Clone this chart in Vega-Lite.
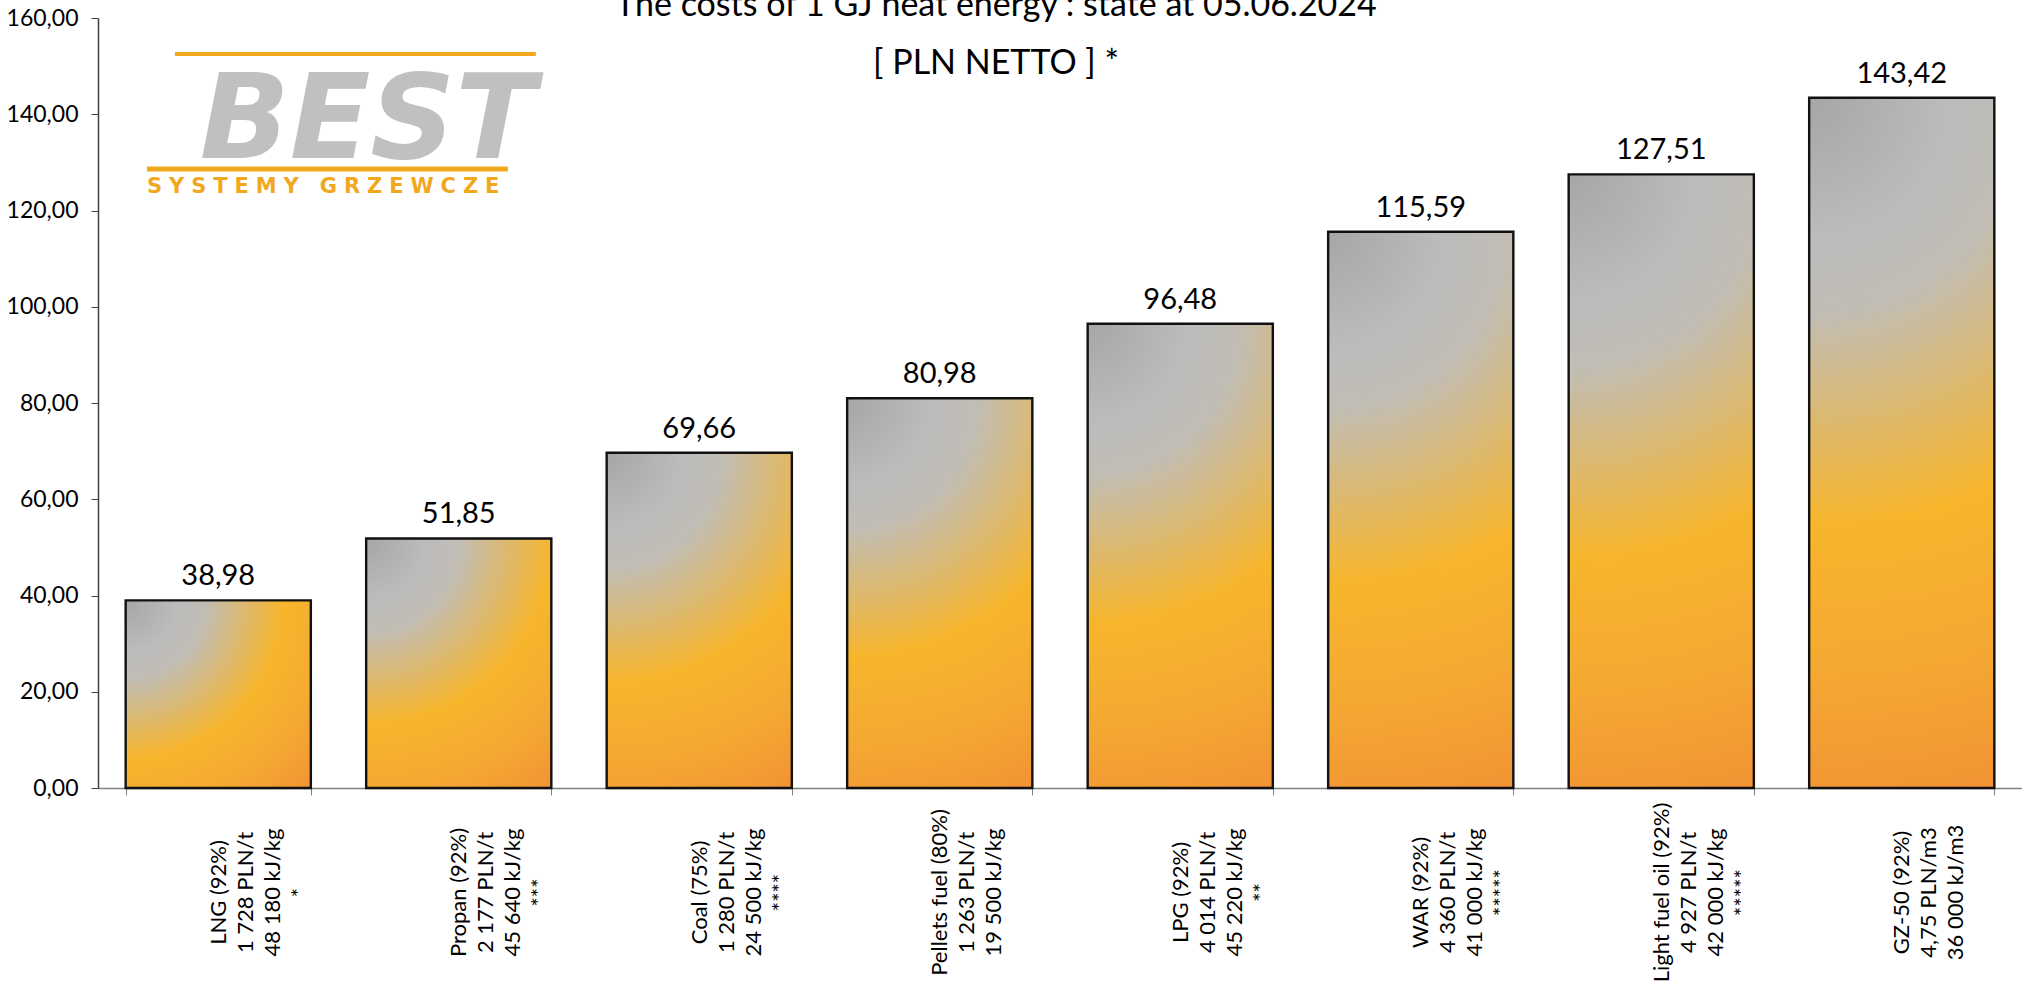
{
  "$schema": "https://vega.github.io/schema/vega-lite/v6.json",
  "width": 1924,
  "height": 770,
  "autosize": "none",
  "padding": {"left": 98, "top": 18, "right": 0, "bottom": 196},
  "background": "#ffffff",
  "config": {
    "view": {"stroke": null},
    "locale": {"number": {"decimal": ",", "thousands": " ", "grouping": [3], "currency": ["", ""]}}
  },
  "title": {
    "text": ["The costs of 1 GJ heat energy : state at 05.06.2024", "[ PLN NETTO ] *"],
    "font": "Lato",
    "fontSize": 34,
    "fontWeight": "normal",
    "color": "#000000",
    "anchor": "middle",
    "frame": "group",
    "baseline": "top",
    "lineHeight": 58,
    "offset": -74,
    "dx": -64
  },
  "data": {
    "values": [
      {"cat": "LNG (92%)|1 728 PLN/t|48 180 kJ/kg|*", "value": 38.98},
      {"cat": "Propan (92%)|2 177 PLN/t|45 640 kJ/kg|***", "value": 51.85},
      {"cat": "Coal (75%)|1 280 PLN/t|24 500 kJ/kg|****", "value": 69.66},
      {"cat": "Pellets fuel (80%)|1 263 PLN/t|19 500 kJ/kg", "value": 80.98},
      {"cat": "LPG (92%)|4 014 PLN/t|45 220 kJ/kg|**", "value": 96.48},
      {"cat": "WAR (92%)|4 360 PLN/t|41 000 kJ/kg|*****", "value": 115.59},
      {"cat": "Light fuel oil (92%)|4 927 PLN/t|42 000 kJ/kg|*****", "value": 127.51},
      {"cat": "GZ-50 (92%)|4,75 PLN/m3|36 000 kJ/m3", "value": 143.42}
    ]
  },
  "encoding": {
    "x": {
      "field": "cat",
      "type": "nominal",
      "sort": null,
      "scale": {"paddingInner": 0.23, "paddingOuter": 0.115},
      "axis": {
        "title": null,
        "labelAngle": -90,
        "labelAlign": "center",
        "labelBaseline": "middle",
        "labelExpr": "split(join(split(datum.label, '|'), (indexof(datum.label, 'Light') == 0 ? '' : indexof(datum.label, 'Pellets') == 0 ? '\u00a0\u00a0\u00a0' : (indexof(datum.label, 'Propan') == 0 || indexof(datum.label, 'GZ') == 0) ? '\u00a0\u00a0\u00a0\u00a0\u00a0\u00a0\u00a0\u00a0\u00a0\u00a0\u00a0\u00a0' : '\u00a0\u00a0\u00a0\u00a0\u00a0\u00a0\u00a0\u00a0\u00a0\u00a0\u00a0\u00a0\u00a0\u00a0') + '|') + (indexof(datum.label, 'Light') == 0 ? '' : indexof(datum.label, 'Pellets') == 0 ? '\u00a0\u00a0\u00a0' : (indexof(datum.label, 'Propan') == 0 || indexof(datum.label, 'GZ') == 0) ? '\u00a0\u00a0\u00a0\u00a0\u00a0\u00a0\u00a0\u00a0\u00a0\u00a0\u00a0\u00a0' : '\u00a0\u00a0\u00a0\u00a0\u00a0\u00a0\u00a0\u00a0\u00a0\u00a0\u00a0\u00a0\u00a0\u00a0'), '|')",
        "labelFont": "Lato",
        "labelFontSize": 22,
        "labelLineHeight": 27,
        "labelColor": "#000000",
        "labelLimit": 400,
        "labelOverlap": false,
        "labelPadding": 97,
        "tickBand": "extent",
        "tickSize": 7,
        "tickColor": "#808080",
        "domainColor": "#808080",
        "domainWidth": 1.5,
        "grid": false
      }
    },
    "y": {
      "field": "value",
      "type": "quantitative",
      "scale": {"domain": [0, 160], "nice": false, "zero": true},
      "axis": {
        "title": null,
        "values": [0, 20, 40, 60, 80, 100, 120, 140, 160],
        "format": ".2f",
        "labelFont": "Lato",
        "labelFontSize": 23,
        "labelColor": "#000000",
        "labelPadding": 13,
        "tickSize": 7,
        "tickColor": "#404040",
        "domainColor": "#404040",
        "domainWidth": 1.5,
        "grid": false
      }
    }
  },
  "layer": [
    {
      "mark": {"type": "bar", "stroke": "#111111", "strokeWidth": 2.4},
      "encoding": {
        "fill": {
          "condition": [
            {"test": "indexof(datum.cat, 'LNG') == 0", "value": {"gradient": "radial", "x1": 0.006, "y1": 0, "r1": 0, "x2": 0.006, "y2": 0, "r2": 1.405, "stops": [{"offset": 0, "color": "#a6a6a6"}, {"offset": 0.2, "color": "#bcbcbc"}, {"offset": 0.3, "color": "#c1bdb5"}, {"offset": 0.6, "color": "#f7b52c"}, {"offset": 0.8, "color": "#f4a932"}, {"offset": 1, "color": "#f29334"}]}},
            {"test": "indexof(datum.cat, 'Propan') == 0", "value": {"gradient": "radial", "x1": 0.129, "y1": 0, "r1": 0, "x2": 0.129, "y2": 0, "r2": 1.245, "stops": [{"offset": 0, "color": "#a6a6a6"}, {"offset": 0.2, "color": "#bcbcbc"}, {"offset": 0.3, "color": "#c1bdb5"}, {"offset": 0.6, "color": "#f7b52c"}, {"offset": 0.8, "color": "#f4a932"}, {"offset": 1, "color": "#f29334"}]}},
            {"test": "indexof(datum.cat, 'Coal') == 0", "value": {"gradient": "radial", "x1": 0.224, "y1": 0, "r1": 0, "x2": 0.224, "y2": 0, "r2": 1.143, "stops": [{"offset": 0, "color": "#a6a6a6"}, {"offset": 0.2, "color": "#bcbcbc"}, {"offset": 0.3, "color": "#c1bdb5"}, {"offset": 0.6, "color": "#f7b52c"}, {"offset": 0.8, "color": "#f4a932"}, {"offset": 1, "color": "#f29334"}]}},
            {"test": "indexof(datum.cat, 'Pellets') == 0", "value": {"gradient": "radial", "x1": 0.262, "y1": 0, "r1": 0, "x2": 0.262, "y2": 0, "r2": 1.107, "stops": [{"offset": 0, "color": "#a6a6a6"}, {"offset": 0.2, "color": "#bcbcbc"}, {"offset": 0.3, "color": "#c1bdb5"}, {"offset": 0.6, "color": "#f7b52c"}, {"offset": 0.8, "color": "#f4a932"}, {"offset": 1, "color": "#f29334"}]}},
            {"test": "indexof(datum.cat, 'LPG') == 0", "value": {"gradient": "radial", "x1": 0.301, "y1": 0, "r1": 0, "x2": 0.301, "y2": 0, "r2": 1.077, "stops": [{"offset": 0, "color": "#a6a6a6"}, {"offset": 0.2, "color": "#bcbcbc"}, {"offset": 0.3, "color": "#c1bdb5"}, {"offset": 0.6, "color": "#f7b52c"}, {"offset": 0.8, "color": "#f4a932"}, {"offset": 1, "color": "#f29334"}]}},
            {"test": "indexof(datum.cat, 'WAR') == 0", "value": {"gradient": "radial", "x1": 0.334, "y1": 0, "r1": 0, "x2": 0.334, "y2": 0, "r2": 1.054, "stops": [{"offset": 0, "color": "#a6a6a6"}, {"offset": 0.2, "color": "#bcbcbc"}, {"offset": 0.3, "color": "#c1bdb5"}, {"offset": 0.6, "color": "#f7b52c"}, {"offset": 0.8, "color": "#f4a932"}, {"offset": 1, "color": "#f29334"}]}},
            {"test": "indexof(datum.cat, 'Light') == 0", "value": {"gradient": "radial", "x1": 0.349, "y1": 0, "r1": 0, "x2": 0.349, "y2": 0, "r2": 1.045, "stops": [{"offset": 0, "color": "#a6a6a6"}, {"offset": 0.2, "color": "#bcbcbc"}, {"offset": 0.3, "color": "#c1bdb5"}, {"offset": 0.6, "color": "#f7b52c"}, {"offset": 0.8, "color": "#f4a932"}, {"offset": 1, "color": "#f29334"}]}}
          ],
          "value": {"gradient": "radial", "x1": 0.366, "y1": 0, "r1": 0, "x2": 0.366, "y2": 0, "r2": 1.035, "stops": [{"offset": 0, "color": "#a6a6a6"}, {"offset": 0.2, "color": "#bcbcbc"}, {"offset": 0.3, "color": "#c1bdb5"}, {"offset": 0.6, "color": "#f7b52c"}, {"offset": 0.8, "color": "#f4a932"}, {"offset": 1, "color": "#f29334"}]}
        }
      }
    },
    {
      "mark": {"type": "text", "baseline": "bottom", "dy": -9, "font": "Lato", "fontSize": 29, "color": "#000000"},
      "encoding": {
        "text": {"field": "value", "type": "quantitative", "format": ".2f"}
      }
    },
    {
      "transform": [{"filter": "indexof(datum.cat, 'LNG') == 0"}],
      "mark": {"type": "rule", "color": "#f2a81d", "strokeWidth": 4},
      "encoding": {
        "x": {"field": "cat", "type": "nominal", "bandPosition": 0.266},
        "x2": {"field": "cat", "bandPosition": 2.215},
        "y": {"datum": 152.5}
      }
    },
    {
      "transform": [{"filter": "indexof(datum.cat, 'LNG') == 0"}],
      "mark": {"type": "rule", "color": "#f2a81d", "strokeWidth": 5},
      "encoding": {
        "x": {"field": "cat", "type": "nominal", "bandPosition": 0.115},
        "x2": {"field": "cat", "bandPosition": 2.064},
        "y": {"datum": 128.6}
      }
    },
    {
      "transform": [{"filter": "indexof(datum.cat, 'LNG') == 0"}],
      "mark": {"type": "text", "text": "BEST", "align": "left", "baseline": "alphabetic", "font": "DejaVu Sans", "fontSize": 118, "fontWeight": "bold", "fontStyle": "italic", "color": "#c0c0c0"},
      "encoding": {
        "x": {"field": "cat", "type": "nominal", "bandPosition": 0.4},
        "y": {"datum": 130.9}
      }
    },
    {
      "transform": [{"filter": "indexof(datum.cat, 'LNG') == 0"}],
      "mark": {"type": "text", "text": "S\u2004Y\u2004S\u2004T\u2004E\u2004M\u2004Y\u2004 \u2004G\u2004R\u2004Z\u2004E\u2004W\u2004C\u2004Z\u2004E", "align": "left", "baseline": "alphabetic", "font": "DejaVu Sans", "fontSize": 21, "fontWeight": "bold", "color": "#f2a81d"},
      "encoding": {
        "x": {"field": "cat", "type": "nominal", "bandPosition": 0.115},
        "y": {"datum": 123.6}
      }
    }
  ]
}
